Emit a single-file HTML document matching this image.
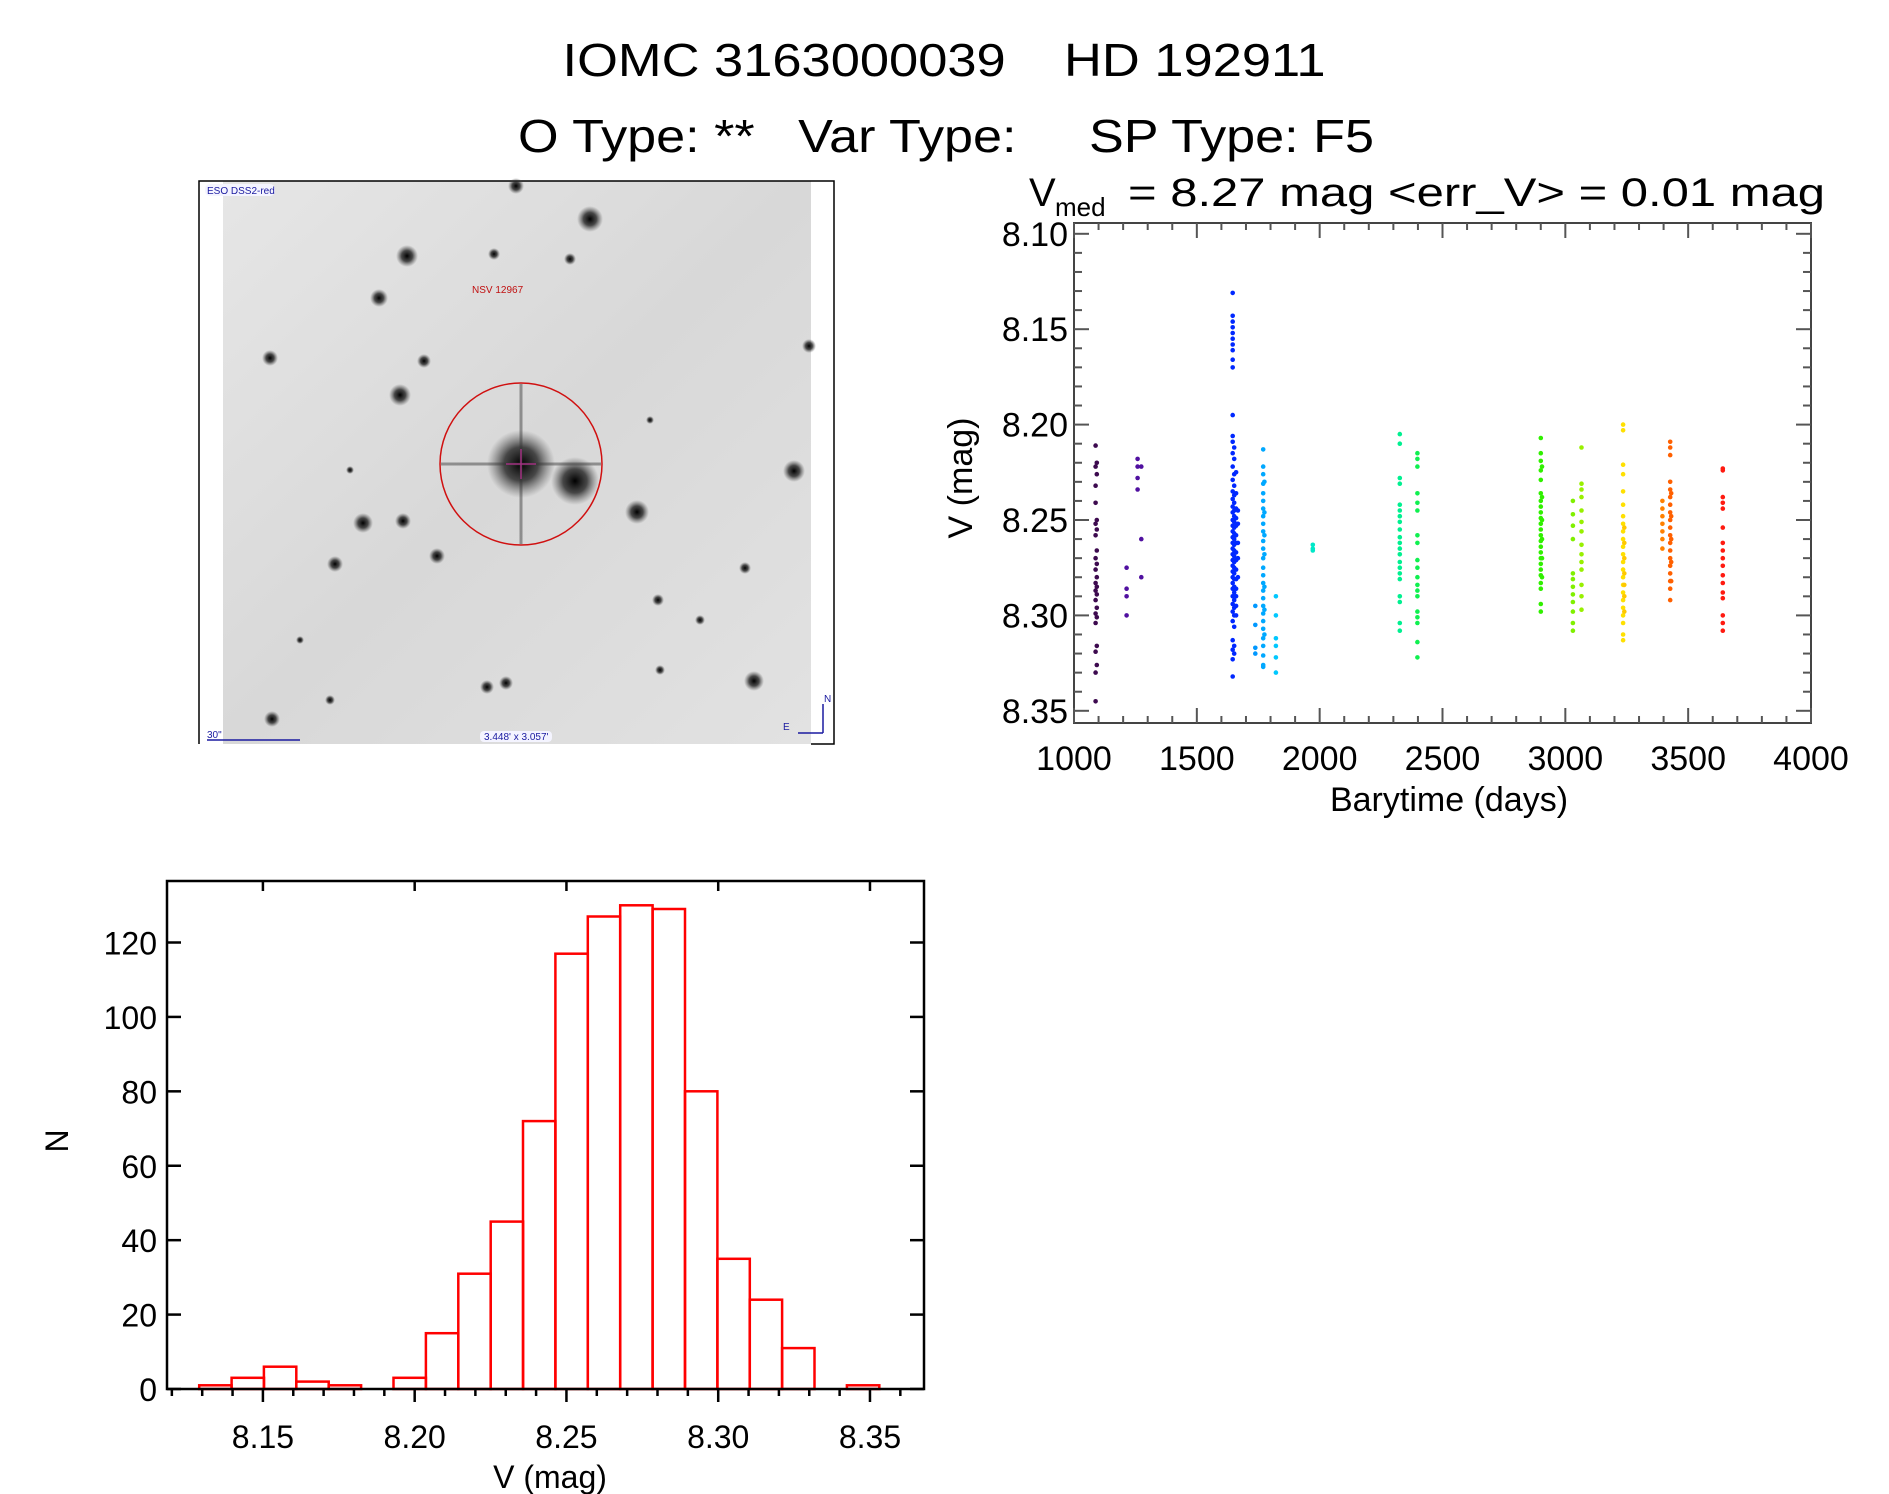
<!DOCTYPE html>
<html><head><meta charset="utf-8">
<style>
html,body{margin:0;padding:0;background:#fff;}
svg{display:block;font-family:"Liberation Sans",sans-serif;}
text{white-space:pre;}
</style></head>
<body>
<svg id="fig" width="1889" height="1494" viewBox="0 0 1889 1494" xmlns="http://www.w3.org/2000/svg">
<text xml:space="preserve" x="944" y="76" font-size="46" text-anchor="middle" textLength="763" lengthAdjust="spacingAndGlyphs">IOMC 3163000039    HD 192911</text>
<text xml:space="preserve" x="946" y="152" font-size="46" text-anchor="middle" textLength="856" lengthAdjust="spacingAndGlyphs">O Type: **   Var Type:     SP Type: F5</text>
<g>
<text x="1029" y="206" font-size="40">V</text>
<text x="1055" y="216" font-size="26">med</text>
<text xml:space="preserve" x="1128" y="206" font-size="40" textLength="697" lengthAdjust="spacingAndGlyphs">= 8.27 mag &lt;err_V&gt; = 0.01 mag</text>
</g>

<g id="sky-image">
<defs>
<radialGradient id="star"><stop offset="0" stop-color="#000" stop-opacity="1"/><stop offset="0.5" stop-color="#222" stop-opacity="0.8"/><stop offset="1" stop-color="#555" stop-opacity="0"/></radialGradient>
<linearGradient id="bg" x1="0" y1="0" x2="1" y2="1"><stop offset="0" stop-color="#e6e6e6"/><stop offset="0.5" stop-color="#d8d8d8"/><stop offset="1" stop-color="#e2e2e2"/></linearGradient>
</defs>
<rect x="223" y="181" width="588" height="563" fill="url(#bg)"/>
<polyline points="199,744 199,181 834,181 834,744 811,744" fill="none" stroke="#000" stroke-width="1.5"/>
<g id="stars"></g>
<line x1="441" y1="464" x2="601" y2="464" stroke="#333" stroke-width="3" opacity="0.45"/>
<line x1="521" y1="384" x2="521" y2="544" stroke="#333" stroke-width="3" opacity="0.45"/>
<circle cx="521" cy="464" r="81" fill="none" stroke="#d01010" stroke-width="1.5"/>
<line x1="506" y1="464" x2="536" y2="464" stroke="#a03080" stroke-width="1.5"/>
<line x1="521" y1="449" x2="521" y2="479" stroke="#a03080" stroke-width="1.5"/>
<rect x="205" y="184" width="70" height="12" rx="5" fill="#f4f4ff"/>
<text x="207" y="194" font-size="10" fill="#1a1aa0">ESO DSS2-red</text>
<text x="472" y="293" font-size="10" fill="#c01010">NSV 12967</text>
<text x="207" y="738" font-size="10" fill="#1a1aa0">30"</text>
<line x1="207" y1="740" x2="300" y2="740" stroke="#1a1aa0" stroke-width="1.5"/>
<rect x="480" y="731" width="72" height="11" rx="4" fill="#f4f4ff"/>
<text x="484" y="740" font-size="10" fill="#1a1aa0">3.448' x 3.057'</text>
<g stroke="#1a1aa0" stroke-width="1.5" fill="none">
<line x1="823" y1="733" x2="798" y2="733"/><line x1="823" y1="733" x2="823" y2="704"/>
</g>
<text x="824" y="702" font-size="10" fill="#1a1aa0">N</text>
<text x="783" y="730" font-size="10" fill="#1a1aa0">E</text>
</g>

<g id="lc"></g>
<g id="hist"></g>
</svg>
<script>
// ---------- Light curve data ----------
const lcTimes = [1088,1093,1214,1259,1274,1646,1652,1660,1667,1738,1770,1775,1822,1972,2326,2398,2900,2905,3031,3066,3235,3240,3395,3427,3431,3641];
const lcMags = [
[8.211,8.222,8.232,8.241,8.252,8.258,8.270,8.276,8.283,8.287,8.292,8.299,8.304,8.319,8.330,8.345],
[8.220,8.226,8.250,8.255,8.266,8.273,8.280,8.285,8.289,8.296,8.301,8.316,8.326],
[8.275,8.286,8.290,8.300],
[8.218,8.222,8.228,8.234],
[8.222,8.260,8.280],
[8.131,8.143,8.146,8.149,8.152,8.155,8.158,8.161,8.166,8.170,8.195,8.206,8.209,8.215,8.222,8.229,8.235,8.239,8.243,8.246,8.250,8.253,8.256,8.259,8.262,8.265,8.268,8.271,8.274,8.277,8.280,8.283,8.286,8.290,8.294,8.298,8.303,8.313,8.318,8.323,8.332],
[8.212,8.218,8.226,8.232,8.237,8.241,8.245,8.248,8.251,8.254,8.257,8.260,8.263,8.266,8.269,8.272,8.275,8.278,8.281,8.285,8.288,8.292,8.296,8.300,8.306,8.316,8.320],
[8.225,8.236,8.244,8.249,8.253,8.258,8.262,8.267,8.271,8.276,8.281,8.286,8.290,8.295,8.300],
[8.245,8.252,8.262,8.270,8.280],
[8.295,8.305,8.317,8.320],
[8.213,8.222,8.226,8.231,8.236,8.240,8.244,8.248,8.252,8.256,8.261,8.265,8.270,8.275,8.279,8.283,8.287,8.291,8.295,8.299,8.303,8.307,8.312,8.316,8.321,8.326,8.327],
[8.230,8.246,8.258,8.268,8.285,8.297,8.310],
[8.290,8.300,8.312,8.316,8.322,8.330],
[8.263,8.265,8.266],
[8.205,8.210,8.228,8.231,8.242,8.245,8.248,8.251,8.255,8.259,8.262,8.265,8.268,8.272,8.275,8.278,8.281,8.290,8.293,8.304,8.308],
[8.215,8.218,8.222,8.236,8.241,8.245,8.258,8.262,8.271,8.275,8.280,8.284,8.287,8.290,8.298,8.301,8.304,8.314,8.322],
[8.207,8.215,8.219,8.224,8.229,8.236,8.240,8.243,8.246,8.249,8.252,8.255,8.258,8.261,8.264,8.267,8.270,8.273,8.276,8.279,8.283,8.286,8.294,8.298],
[8.222,8.238,8.250,8.260,8.270,8.280],
[8.240,8.247,8.253,8.260,8.278,8.281,8.285,8.289,8.293,8.298,8.304,8.308],
[8.212,8.231,8.234,8.238,8.245,8.251,8.256,8.263,8.268,8.272,8.276,8.284,8.290,8.297],
[8.200,8.203,8.221,8.226,8.235,8.242,8.248,8.252,8.256,8.260,8.264,8.268,8.272,8.276,8.280,8.284,8.288,8.292,8.296,8.300,8.304,8.310,8.313],
[8.254,8.262,8.270,8.278,8.284,8.290,8.298],
[8.240,8.244,8.248,8.252,8.256,8.260,8.265],
[8.209,8.212,8.216,8.230,8.234,8.238,8.242,8.246,8.250,8.254,8.258,8.262,8.266,8.270,8.274,8.278,8.282,8.286,8.292],
[8.236,8.248,8.260,8.272,8.282],
[8.223,8.224,8.238,8.241,8.244,8.254,8.262,8.266,8.270,8.274,8.279,8.283,8.288,8.291,8.300,8.304,8.308]
];
const lcXTicks = [1000,1500,2000,2500,3000,3500,4000];
const lcYTicks = [8.10,8.15,8.20,8.25,8.30,8.35];
const lcYTickLabels = ["8.10","8.15","8.20","8.25","8.30","8.35"];

// ---------- Histogram data ----------
const histBinStart = 8.1290;
const histBinWidth = 0.01067;
const histCounts = [1,3,6,2,1,0,3,15,31,45,72,117,127,130,129,80,35,24,11,0,1];
const histXTicks = [8.15,8.20,8.25,8.30,8.35];
const histXTickLabels = ["8.15","8.20","8.25","8.30","8.35"];
const histYTicks = [0,20,40,60,80,100,120];

const NS="http://www.w3.org/2000/svg";
function mk(tag, attrs, parent){const e=document.createElementNS(NS,tag);for(const k in attrs)e.setAttribute(k,attrs[k]);parent.appendChild(e);return e;}

// stars
const starList=[[521,464,34],[575,481,24],[590,219,13],[407,256,11],[379,298,9],[270,358,8],[424,361,7],[400,395,11],[794,471,11],[637,512,12],[363,523,10],[403,521,8],[437,556,8],[335,564,8],[754,681,10],[487,687,7],[506,683,7],[272,719,8],[809,346,7],[516,186,8],[658,600,6],[745,568,6],[570,259,6],[494,254,6],[660,670,5],[700,620,5],[330,700,5],[300,640,4],[650,420,4],[350,470,4]];
const sg=document.getElementById('stars');
starList.forEach(s=>{const c=mk('circle',{cx:s[0],cy:s[1],r:s[2],fill:'url(#star)'},sg);

});

// ---------- Light curve ----------
const lc=document.getElementById('lc');
const L={x0:1074,x1:1811,y0:223,y1:723};
const tMin=1000,tMax=4000;
const xT=t=>L.x0+(t-tMin)/(tMax-tMin)*(L.x1-L.x0);
const vAt810=233.8, pxPerMag=1908;
const yV=v=>vAt810+(v-8.10)*pxPerMag;
const lcColors=['#3d0a4f','#3d0a4f','#5010a0','#5010a0','#5010a0','#0028ff','#0028ff','#0028ff','#0028ff','#0098ff','#00a8ff','#00a8ff','#00c8ff','#00e8c8','#00f090','#10f050','#30f000','#30f000','#80f000','#98f000','#ffe000','#ffc800','#ff8000','#ff6000','#ff6000','#ff1a10'];
lcTimes.forEach((t,i)=>{lcMags[i].forEach(v=>{
 const d=mk('circle',{cx:xT(t).toFixed(1),cy:yV(v).toFixed(1),r:2.3,fill:lcColors[i]},lc);
 
 
});});
const lf=mk('rect',{x:L.x0,y:L.y0,width:L.x1-L.x0,height:L.y1-L.y0,fill:'none',stroke:'#444','stroke-width':2},lc);


for(let t=tMin;t<=tMax;t+=100){const x=xT(t);const maj=(t%500===0);const len=maj?15:7;
 mk('line',{x1:x,y1:L.y1,x2:x,y2:L.y1-len,stroke:'#555','stroke-width':2},lc);
 mk('line',{x1:x,y1:L.y0,x2:x,y2:L.y0+len,stroke:'#555','stroke-width':2},lc);}
for(let k=0;k<=25;k++){const v=8.10+k*0.01;const y=yV(v);if(y<L.y0||y>L.y1)continue;const maj=(k%5===0);const len=maj?15:8;
 mk('line',{x1:L.x0,y1:y,x2:L.x0+len,y2:y,stroke:'#555','stroke-width':2},lc);
 mk('line',{x1:L.x1,y1:y,x2:L.x1-len,y2:y,stroke:'#555','stroke-width':2},lc);}
lcXTicks.forEach(t=>{const e=mk('text',{x:xT(t),y:770,'font-size':34,'text-anchor':'middle'},lc);e.textContent=String(t);
 
 });
lcYTicks.forEach((v,i)=>{const e=mk('text',{x:1068,y:yV(v)+12,'font-size':34,'text-anchor':'end'},lc);e.textContent=lcYTickLabels[i];
 
 });
let e1=mk('text',{x:1449,y:811,'font-size':34,'text-anchor':'middle'},lc);e1.textContent='Barytime (days)';


let e2=mk('text',{x:0,y:0,'font-size':34,'text-anchor':'middle',transform:'translate(972,478) rotate(-90)'},lc);e2.textContent='V (mag)';



// ---------- Histogram ----------
const hg=document.getElementById('hist');
const H={x0:167,x1:924,y0:881,y1:1389};
const hvMin=8.1184,hvMax=8.3678;
const xH=v=>H.x0+(v-hvMin)/(hvMax-hvMin)*(H.x1-H.x0);
const pxPerCount=(1389-942.5)/120;
const yH=n=>H.y1-n*pxPerCount;
histCounts.forEach((n,i)=>{const a=xH(histBinStart+i*histBinWidth),b=xH(histBinStart+(i+1)*histBinWidth);
 const r=mk('rect',{x:a.toFixed(1),y:yH(n).toFixed(1),width:(b-a).toFixed(1),height:(n*pxPerCount).toFixed(1),fill:'none',stroke:'#ff0000','stroke-width':2.5},hg);
 
 });
const hf=mk('rect',{x:H.x0,y:H.y0,width:H.x1-H.x0,height:H.y1-H.y0,fill:'none',stroke:'#000','stroke-width':2.5},hg);


for(let k=12;k<=36;k++){const v=8.0+k*0.01;const x=xH(v);if(x<H.x0||x>H.x1)continue;const maj=(k%5===0);
 mk('line',{x1:x,y1:H.y1,x2:x,y2:H.y1+(maj?13:7),stroke:'#000','stroke-width':2.5},hg);
 if(maj)mk('line',{x1:x,y1:H.y0,x2:x,y2:H.y0+10,stroke:'#000','stroke-width':2.5},hg);}
histYTicks.forEach(n=>{const y=yH(n);
 mk('line',{x1:H.x0,y1:y,x2:H.x0+14,y2:y,stroke:'#000','stroke-width':2.5},hg);
 mk('line',{x1:H.x1,y1:y,x2:H.x1-14,y2:y,stroke:'#000','stroke-width':2.5},hg);
 const e=mk('text',{x:157,y:y+12,'font-size':32,'text-anchor':'end'},hg);e.textContent=String(n);
 
 });
histXTicks.forEach((v,i)=>{const e=mk('text',{x:xH(v),y:1448,'font-size':32,'text-anchor':'middle'},hg);e.textContent=histXTickLabels[i];
 
 });
let e3=mk('text',{x:550,y:1488,'font-size':32,'text-anchor':'middle'},hg);e3.textContent='V (mag)';


let e4=mk('text',{x:0,y:0,'font-size':32,'text-anchor':'middle',transform:'translate(68,1141) rotate(-90)'},hg);e4.textContent='N';


</script>
</body></html>
